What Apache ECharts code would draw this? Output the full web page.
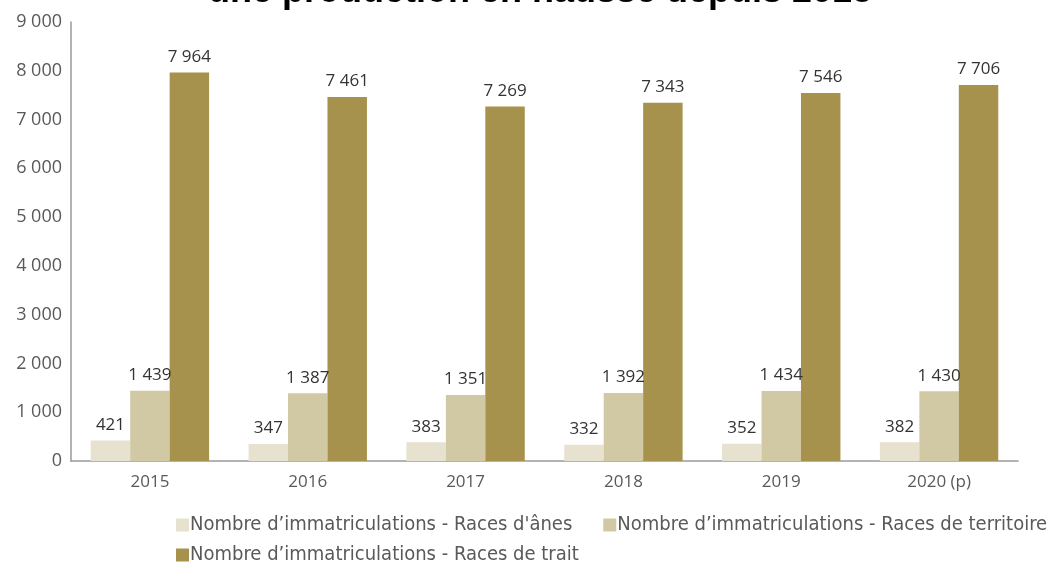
<!DOCTYPE html>
<html><head><meta charset="utf-8">
<script src="https://cdn.jsdelivr.net/npm/echarts@6/dist/echarts.min.js"></script>
<style>html,body{margin:0;padding:0;background:#fff}#c{width:1056px;height:563px}</style>
</head><body><div id="c"></div>
<script>
const categories = ['2015','2016','2017','2018','2019','2020 (p)'];
const seriesNames = ['Nombre d’immatriculations - Races d\'ânes','Nombre d’immatriculations - Races de territoire','Nombre d’immatriculations - Races de trait'];
const anes = [421,347,383,332,352,382];
const territoire = [1439,1387,1351,1392,1434,1430];
const trait = [7964,7461,7269,7343,7546,7706];
const colors = ['#E6E2CF','#D1C8A4','#A6924C'];
const titleText = 'une production en hausse depuis 2015';

function fmt(v){ return String(v).replace(/\B(?=(\d{3})+(?!\d))/g,' '); }
const font = '"Open Sans", Lato, sans-serif';
const lfont = '"Liberation Sans Narrow","DejaVu Sans Condensed",sans-serif';
const chart = echarts.init(document.getElementById('c'));
function mk(name,data,color){
  return {name,type:'bar',data,barGap:'0%',barCategoryGap:'25%',
    itemStyle:{color},
    label:{show:true,position:'top',distance:7,color:'#333',fontSize:17,fontFamily:font,formatter:p=>fmt(p.value)}};
}
chart.setOption({
  animation:false,
  title:{text:titleText,left:203,top:-31,textStyle:{fontSize:36,fontWeight:'bold',color:'#000',fontFamily:'"Liberation Sans", Arial, sans-serif'}},
  grid:{left:71,right:38,top:22,bottom:102},
  xAxis:{type:'category',data:categories,axisTick:{show:false},
    axisLine:{lineStyle:{color:'#9a9a9a',width:1.5}},
    axisLabel:{color:'#595959',fontSize:17,fontFamily:font,margin:13}},
  yAxis:{type:'value',min:0,max:9000,interval:1000,splitLine:{show:false},
    axisLine:{show:true,lineStyle:{color:'#9a9a9a',width:1.5}},axisTick:{show:false},
    axisLabel:{color:'#595959',fontSize:18,fontFamily:font,margin:9,formatter:v=>fmt(v)}},
  legend:[
    {data:[seriesNames[0],seriesNames[1]],left:171,top:510,itemWidth:13,itemHeight:13,itemGap:31,icon:'rect',
     textStyle:{fontSize:20,color:'#595959',fontFamily:lfont,padding:[0,0,0,-4]}},
    {data:[seriesNames[2]],left:171,top:540,itemWidth:13,itemHeight:13,icon:'rect',
     textStyle:{fontSize:20,color:'#595959',fontFamily:lfont,padding:[0,0,0,-4]}}
  ],
  series:[mk(seriesNames[0],anes,colors[0]),mk(seriesNames[1],territoire,colors[1]),mk(seriesNames[2],trait,colors[2])]
});
</script></body></html>
